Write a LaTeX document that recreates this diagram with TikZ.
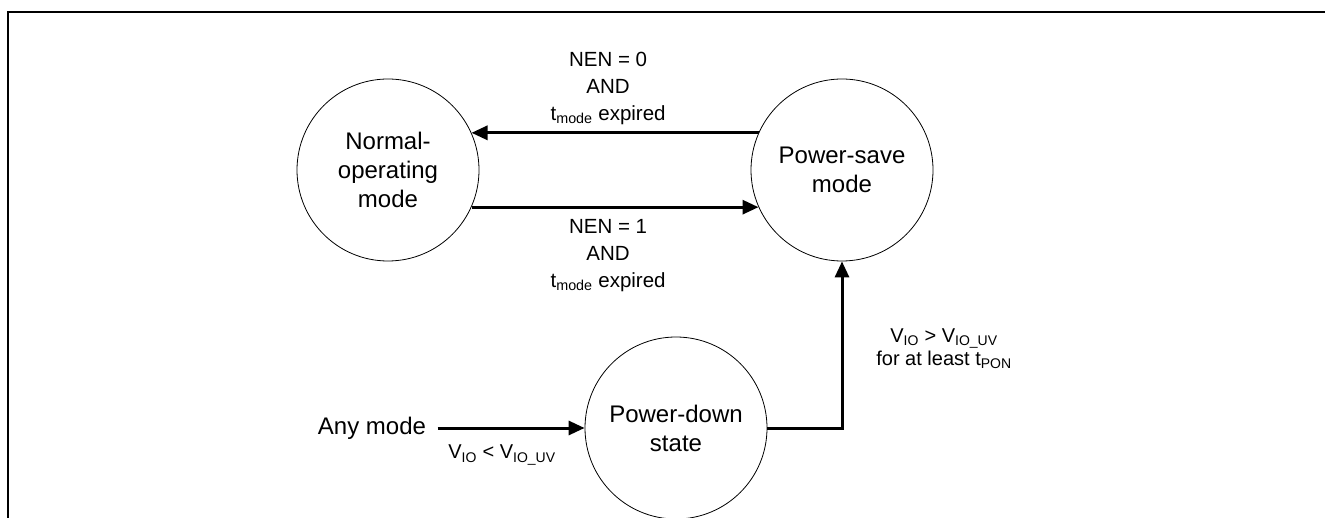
\documentclass[tikz,border=0pt]{standalone}
\usepackage{fontspec}
\setmainfont{Liberation Sans}
\usetikzlibrary{arrows.meta}
\begin{document}
\begin{tikzpicture}
  [x=1pt, y=-1pt,
   state/.style={circle, draw=black, line width=0.8pt, minimum size=182pt, inner sep=0pt,
                 align=center, font=\fontsize{24}{29}\selectfont},
   trans/.style={line width=3pt, draw=black, -{Triangle[length=16pt, width=14pt]}},
   cond/.style={align=center, font=\fontsize{20.5}{27}\selectfont},
   frame_line/.style={line width=2pt, draw=black}]

  \useasboundingbox (0,0) rectangle (1325,518);

  % Rahmen
  \draw[frame_line] (1325,12) -- (8,12) -- (8,518);

  % Zustaende
  \node[state] (normal) at (388,170) {Normal-\\operating\\mode};
  \node[state] (save) at (842,170) {Power-save\\mode};
  \node[state] (down) at (676,428) {Power-down\\state};
  \node[font=\fontsize{24}{29}\selectfont] (any) at (372,428) {Any mode};

  % Uebergaenge
  \draw[trans] (save.156) -- node[cond, pos=0.524, above=3pt] {NEN = 0\\AND\\t\textsubscript{mode} expired} (normal.24);
  \draw[trans] (normal.-24) -- node[cond, pos=0.476, below=7pt] {NEN = 1\\AND\\t\textsubscript{mode} expired} (save.204);
  \draw[trans, shorten <=8pt] (any.east) -- (down.west);
  \draw[trans] (down.east) -| (save.south);

  % Bedingungen
  \node[cond, font=\fontsize{20}{23}\selectfont] (uv_low) at (502,455) {V\textsubscript{IO} < V\textsubscript{IO\_UV}};
  \node[cond, font=\fontsize{20}{23}\selectfont] (uv_high) at (944,349) {V\textsubscript{IO} > V\textsubscript{IO\_UV}\\for at least t\textsubscript{PON}};
\end{tikzpicture}
\end{document}
